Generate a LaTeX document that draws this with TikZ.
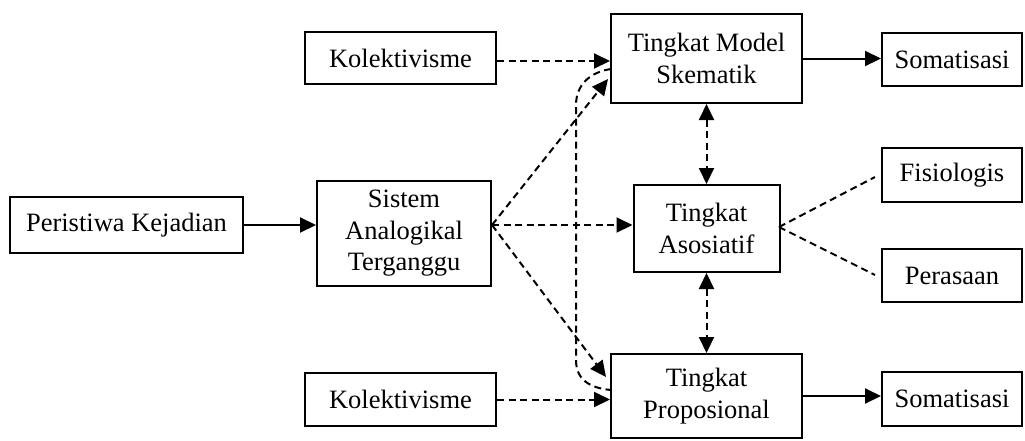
\documentclass[tikz,border=0pt]{standalone}
\usepackage{fontspec}
\setmainfont{Liberation Serif}
\usetikzlibrary{arrows.meta}
\begin{document}
\begin{tikzpicture}[x=1pt,y=-1pt,
  box/.style={draw, line width=2pt, align=center, inner sep=0pt, font=\fontsize{26.5}{31.5}\selectfont},
  arr/.style={line width=2pt, -{Triangle[length=16pt,width=15pt]}},
  darr/.style={arr, dash pattern=on 7pt off 4.5pt},
  dd/.style={line width=2pt, dash pattern=on 7pt off 4.5pt, {Triangle[length=16pt,width=15pt]}-{Triangle[length=16pt,width=15pt]}},
  dline/.style={line width=2pt, dash pattern=on 7pt off 4.5pt}]
\useasboundingbox (0,0) rectangle (1025,440);
\node[box, minimum width=233pt, minimum height=56pt] (pk) at (126.5,225) {Peristiwa Kejadian};
\node[box, minimum width=174pt, minimum height=105pt] (sat) at (404,233.5) {Sistem\\Analogikal\\Terganggu};
\node[box, minimum width=191pt, minimum height=52pt] (kol1) at (400.5,58) {Kolektivisme};
\node[box, minimum width=191pt, minimum height=89pt] (tms) at (706.5,58.5) {Tingkat Model\\Skematik};
\node[box, minimum width=140pt, minimum height=53pt] (som1) at (952,59.5) {Somatisasi};
\node[box, minimum width=146pt, minimum height=87pt] (aso) at (706.5,228.5) {Tingkat\\Asosiatif};
\node[box, minimum width=140pt, minimum height=54pt] (fis) at (952,175) {Fisiologis};
\node[box, minimum width=140pt, minimum height=53pt] (per) at (952,275.5) {Perasaan};
\node[box, minimum width=191pt, minimum height=84pt] (prop) at (706.5,396) {Tingkat\\Proposional};
\node[box, minimum width=191pt, minimum height=53pt] (kol2) at (400.5,399.5) {Kolektivisme};
\node[box, minimum width=140pt, minimum height=54pt] (som2) at (952,399) {Somatisasi};
\coordinate (s) at (sat.east |- pk.east);
\coordinate (tin) at (608,79);
\coordinate (pin) at (606,377);
\coordinate (fe) at (875,177);
\coordinate (pe) at (875,275);
\coordinate (ae) at (779,227);
\coordinate (ta) at (611,69);
\coordinate (tb) at (611,390);
\draw[arr] (pk.east) -- (pk.east -| sat.west);
\draw[darr] (s) -- (tin);
\draw[darr] (s) -- (s -| aso.west);
\draw[darr] (s) -- (pin);
\draw[darr] ([yshift=-3pt]kol1.east) -- ([yshift=-3pt]kol1.east -| tms.west);
\draw[arr] (tms.east) -- (tms.east -| som1.west);
\draw[darr] (kol2.east) -- (kol2.east -| prop.west);
\draw[arr] (prop.east) -- (prop.east -| som2.west);
\draw[dd] (tms.south) -- (aso.north);
\draw[dd] (aso.south) -- (prop.north);
\draw[dline] (ae) -- (fe);
\draw[dline] (ae) -- (pe);
\draw[dline] (ta) .. controls (590,72) and (576,85) .. (576,105) -- (576,360) .. controls (576,380) and (590,388) .. (tb);
\end{tikzpicture}
\end{document}
